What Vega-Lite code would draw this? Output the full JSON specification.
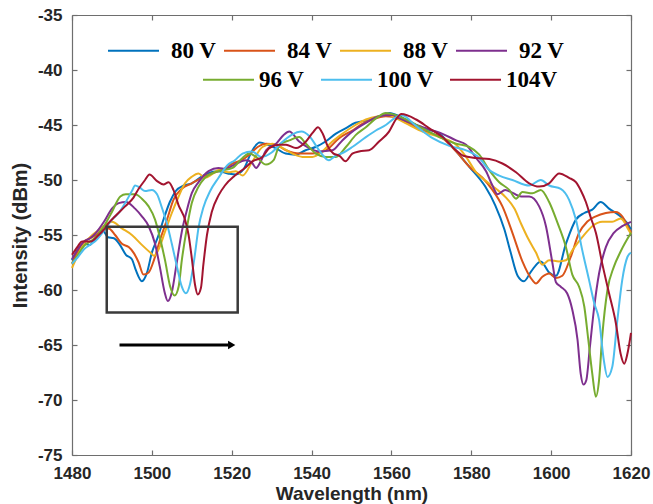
{
"$schema": "https://vega.github.io/schema/vega-lite/v6.json",
"width": 559, "height": 440,
"autosize": {"type": "none"},
"padding": {"left": 72, "top": 15, "right": 22, "bottom": 49},
"background": "white",
"config": {
  "view": {"stroke": null},
  "axis": {"grid": false, "domainColor": "#6e6e6e", "domainWidth": 1.2, "tickColor": "#6e6e6e", "tickWidth": 1.2, "tickSize": -5,
    "labelFont": "Liberation Sans", "labelFontWeight": "bold", "labelColor": "#262626",
    "titleFont": "Liberation Sans", "titleFontWeight": "bold", "titleColor": "#262626", "titleFontSize": 20}
},
"datasets": {
"spec": [
{"s":"80 V","x":1480,"y":-57.3},{"s":"80 V","x":1481.5,"y":-56.3},{"s":"80 V","x":1483,"y":-55.8},{"s":"80 V","x":1484.5,"y":-55.9},{"s":"80 V","x":1486,"y":-55.2},{"s":"80 V","x":1487.5,"y":-54.5},{"s":"80 V","x":1489,"y":-55.2},{"s":"80 V","x":1490.5,"y":-55.3},{"s":"80 V","x":1492,"y":-55.9},{"s":"80 V","x":1493.5,"y":-56.8},{"s":"80 V","x":1495,"y":-57.2},{"s":"80 V","x":1496,"y":-58.2},{"s":"80 V","x":1497.5,"y":-59.2},{"s":"80 V","x":1498.8,"y":-58.4},{"s":"80 V","x":1500,"y":-56.6},{"s":"80 V","x":1501.5,"y":-55.2},{"s":"80 V","x":1503,"y":-53.5},{"s":"80 V","x":1504.5,"y":-52.0},{"s":"80 V","x":1506,"y":-51.0},{"s":"80 V","x":1508,"y":-50.5},{"s":"80 V","x":1510,"y":-50.3},{"s":"80 V","x":1512,"y":-49.8},{"s":"80 V","x":1514,"y":-49.4},{"s":"80 V","x":1516.5,"y":-49.2},{"s":"80 V","x":1519,"y":-49.4},{"s":"80 V","x":1521,"y":-49.5},{"s":"80 V","x":1523,"y":-49.0},{"s":"80 V","x":1525,"y":-47.4},{"s":"80 V","x":1527,"y":-46.6},{"s":"80 V","x":1529,"y":-46.8},{"s":"80 V","x":1531,"y":-47.1},{"s":"80 V","x":1533.5,"y":-47.6},{"s":"80 V","x":1536,"y":-47.7},{"s":"80 V","x":1538.5,"y":-47.3},{"s":"80 V","x":1541,"y":-47.0},{"s":"80 V","x":1543.5,"y":-46.5},{"s":"80 V","x":1546,"y":-45.8},{"s":"80 V","x":1548.5,"y":-45.3},{"s":"80 V","x":1551,"y":-44.8},{"s":"80 V","x":1553.5,"y":-44.6},{"s":"80 V","x":1557,"y":-44.2},{"s":"80 V","x":1559.5,"y":-43.9},{"s":"80 V","x":1562,"y":-44.2},{"s":"80 V","x":1565,"y":-44.8},{"s":"80 V","x":1568,"y":-45.3},{"s":"80 V","x":1572,"y":-45.8},{"s":"80 V","x":1576,"y":-47.3},{"s":"80 V","x":1579.5,"y":-48.8},{"s":"80 V","x":1583.5,"y":-50.6},{"s":"80 V","x":1586,"y":-52.3},{"s":"80 V","x":1588.3,"y":-54.5},{"s":"80 V","x":1589.8,"y":-56.5},{"s":"80 V","x":1591.6,"y":-58.7},{"s":"80 V","x":1593.2,"y":-59.2},{"s":"80 V","x":1595,"y":-58.3},{"s":"80 V","x":1597.4,"y":-57.4},{"s":"80 V","x":1599.5,"y":-58.4},{"s":"80 V","x":1601.2,"y":-58.7},{"s":"80 V","x":1603.7,"y":-55.8},{"s":"80 V","x":1606.2,"y":-53.6},{"s":"80 V","x":1608.3,"y":-53.0},{"s":"80 V","x":1610.3,"y":-52.7},{"s":"80 V","x":1612.4,"y":-52.0},{"s":"80 V","x":1614.5,"y":-52.6},{"s":"80 V","x":1617,"y":-53.2},{"s":"80 V","x":1619,"y":-53.9},{"s":"80 V","x":1620,"y":-54.5},
{"s":"84 V","x":1480,"y":-57.6},{"s":"84 V","x":1481.5,"y":-56.5},{"s":"84 V","x":1483,"y":-55.6},{"s":"84 V","x":1484.5,"y":-55.3},{"s":"84 V","x":1486,"y":-55.0},{"s":"84 V","x":1487.5,"y":-54.6},{"s":"84 V","x":1489.2,"y":-54.4},{"s":"84 V","x":1490.8,"y":-55.0},{"s":"84 V","x":1492.5,"y":-55.8},{"s":"84 V","x":1494.2,"y":-56.1},{"s":"84 V","x":1495.4,"y":-56.6},{"s":"84 V","x":1496.7,"y":-57.5},{"s":"84 V","x":1497.9,"y":-58.6},{"s":"84 V","x":1499.2,"y":-58.4},{"s":"84 V","x":1500.6,"y":-57.2},{"s":"84 V","x":1502,"y":-55.5},{"s":"84 V","x":1503.8,"y":-53.6},{"s":"84 V","x":1505.4,"y":-51.8},{"s":"84 V","x":1507.5,"y":-50.8},{"s":"84 V","x":1510,"y":-50.3},{"s":"84 V","x":1512.5,"y":-49.8},{"s":"84 V","x":1515,"y":-49.4},{"s":"84 V","x":1518,"y":-49.0},{"s":"84 V","x":1520.2,"y":-48.5},{"s":"84 V","x":1522.5,"y":-48.2},{"s":"84 V","x":1524.4,"y":-47.7},{"s":"84 V","x":1526.5,"y":-47.0},{"s":"84 V","x":1528.6,"y":-46.7},{"s":"84 V","x":1531,"y":-46.8},{"s":"84 V","x":1533.6,"y":-47.3},{"s":"84 V","x":1536.9,"y":-47.6},{"s":"84 V","x":1540.2,"y":-47.6},{"s":"84 V","x":1543.6,"y":-47.3},{"s":"84 V","x":1546.9,"y":-46.2},{"s":"84 V","x":1550.2,"y":-45.5},{"s":"84 V","x":1552.7,"y":-44.9},{"s":"84 V","x":1555.2,"y":-44.5},{"s":"84 V","x":1558.6,"y":-44.2},{"s":"84 V","x":1562,"y":-44.4},{"s":"84 V","x":1565,"y":-45.0},{"s":"84 V","x":1567.8,"y":-45.5},{"s":"84 V","x":1572.8,"y":-46.2},{"s":"84 V","x":1576.2,"y":-47.4},{"s":"84 V","x":1579.5,"y":-48.8},{"s":"84 V","x":1582.8,"y":-49.8},{"s":"84 V","x":1585.3,"y":-50.9},{"s":"84 V","x":1587.8,"y":-52.4},{"s":"84 V","x":1590.3,"y":-54.8},{"s":"84 V","x":1592.8,"y":-57.4},{"s":"84 V","x":1595.3,"y":-59.1},{"s":"84 V","x":1596.2,"y":-59.4},{"s":"84 V","x":1597.8,"y":-58.8},{"s":"84 V","x":1599.5,"y":-58.5},{"s":"84 V","x":1601.2,"y":-58.9},{"s":"84 V","x":1602.8,"y":-58.7},{"s":"84 V","x":1604.9,"y":-57.0},{"s":"84 V","x":1607,"y":-54.8},{"s":"84 V","x":1609,"y":-53.8},{"s":"84 V","x":1611.2,"y":-53.3},{"s":"84 V","x":1613.7,"y":-53.0},{"s":"84 V","x":1616.2,"y":-52.9},{"s":"84 V","x":1617.8,"y":-53.3},{"s":"84 V","x":1619.3,"y":-54.3},{"s":"84 V","x":1620,"y":-54.8},
{"s":"88 V","x":1480,"y":-58.0},{"s":"88 V","x":1481.5,"y":-56.8},{"s":"88 V","x":1483,"y":-55.8},{"s":"88 V","x":1484.5,"y":-55.2},{"s":"88 V","x":1486.5,"y":-54.6},{"s":"88 V","x":1488.3,"y":-54.1},{"s":"88 V","x":1490,"y":-53.8},{"s":"88 V","x":1492.5,"y":-54.4},{"s":"88 V","x":1495,"y":-55.0},{"s":"88 V","x":1497.5,"y":-55.9},{"s":"88 V","x":1499.6,"y":-56.6},{"s":"88 V","x":1500.6,"y":-56.9},{"s":"88 V","x":1501.7,"y":-56.3},{"s":"88 V","x":1503.3,"y":-54.7},{"s":"88 V","x":1505,"y":-53.0},{"s":"88 V","x":1506.7,"y":-51.5},{"s":"88 V","x":1508.3,"y":-50.3},{"s":"88 V","x":1510,"y":-49.7},{"s":"88 V","x":1511.7,"y":-49.4},{"s":"88 V","x":1513.3,"y":-49.8},{"s":"88 V","x":1515,"y":-49.5},{"s":"88 V","x":1516.7,"y":-49.1},{"s":"88 V","x":1519.2,"y":-49.3},{"s":"88 V","x":1521,"y":-49.2},{"s":"88 V","x":1522.7,"y":-49.6},{"s":"88 V","x":1525.2,"y":-48.3},{"s":"88 V","x":1527.7,"y":-47.0},{"s":"88 V","x":1530.2,"y":-46.7},{"s":"88 V","x":1532.8,"y":-47.1},{"s":"88 V","x":1535.2,"y":-47.6},{"s":"88 V","x":1537.7,"y":-47.9},{"s":"88 V","x":1540.2,"y":-47.9},{"s":"88 V","x":1542.7,"y":-47.4},{"s":"88 V","x":1545.2,"y":-46.5},{"s":"88 V","x":1547.7,"y":-45.8},{"s":"88 V","x":1551,"y":-45.0},{"s":"88 V","x":1553.6,"y":-44.5},{"s":"88 V","x":1556.9,"y":-44.2},{"s":"88 V","x":1559.4,"y":-44.1},{"s":"88 V","x":1561.2,"y":-44.4},{"s":"88 V","x":1564.5,"y":-45.0},{"s":"88 V","x":1567.8,"y":-45.6},{"s":"88 V","x":1572,"y":-46.1},{"s":"88 V","x":1576.2,"y":-46.8},{"s":"88 V","x":1578.7,"y":-47.9},{"s":"88 V","x":1581.2,"y":-49.3},{"s":"88 V","x":1583.7,"y":-50.1},{"s":"88 V","x":1586.2,"y":-50.8},{"s":"88 V","x":1588.7,"y":-51.6},{"s":"88 V","x":1590.8,"y":-52.6},{"s":"88 V","x":1592.5,"y":-54.0},{"s":"88 V","x":1594.2,"y":-55.3},{"s":"88 V","x":1596.2,"y":-56.6},{"s":"88 V","x":1597.8,"y":-57.7},{"s":"88 V","x":1599.5,"y":-57.3},{"s":"88 V","x":1602,"y":-57.4},{"s":"88 V","x":1603.7,"y":-57.3},{"s":"88 V","x":1605.3,"y":-56.4},{"s":"88 V","x":1607.8,"y":-55.2},{"s":"88 V","x":1610.3,"y":-54.2},{"s":"88 V","x":1612.8,"y":-53.8},{"s":"88 V","x":1615.3,"y":-53.8},{"s":"88 V","x":1617.4,"y":-53.5},{"s":"88 V","x":1619.5,"y":-54.6},{"s":"88 V","x":1620,"y":-54.9},
{"s":"92 V","x":1480,"y":-57.2},{"s":"92 V","x":1481.5,"y":-56.3},{"s":"92 V","x":1483,"y":-55.6},{"s":"92 V","x":1484.5,"y":-55.3},{"s":"92 V","x":1486,"y":-54.8},{"s":"92 V","x":1488,"y":-53.8},{"s":"92 V","x":1490,"y":-52.6},{"s":"92 V","x":1491.7,"y":-52.1},{"s":"92 V","x":1493.5,"y":-52.0},{"s":"92 V","x":1495.8,"y":-52.6},{"s":"92 V","x":1497.5,"y":-53.3},{"s":"92 V","x":1499.2,"y":-54.2},{"s":"92 V","x":1500.8,"y":-55.8},{"s":"92 V","x":1502,"y":-57.9},{"s":"92 V","x":1503.2,"y":-60.2},{"s":"92 V","x":1504,"y":-61.0},{"s":"92 V","x":1505,"y":-60.2},{"s":"92 V","x":1506.2,"y":-57.6},{"s":"92 V","x":1507.5,"y":-54.7},{"s":"92 V","x":1508.8,"y":-52.7},{"s":"92 V","x":1510,"y":-51.2},{"s":"92 V","x":1511.7,"y":-50.2},{"s":"92 V","x":1514.2,"y":-49.2},{"s":"92 V","x":1516.7,"y":-48.9},{"s":"92 V","x":1518.5,"y":-49.0},{"s":"92 V","x":1520.2,"y":-48.7},{"s":"92 V","x":1523.6,"y":-48.2},{"s":"92 V","x":1525,"y":-48.4},{"s":"92 V","x":1526.1,"y":-48.9},{"s":"92 V","x":1527.4,"y":-48.2},{"s":"92 V","x":1528.6,"y":-47.3},{"s":"92 V","x":1531.1,"y":-46.7},{"s":"92 V","x":1533,"y":-45.9},{"s":"92 V","x":1534.4,"y":-45.6},{"s":"92 V","x":1536.9,"y":-46.5},{"s":"92 V","x":1539.4,"y":-47.1},{"s":"92 V","x":1541.9,"y":-47.4},{"s":"92 V","x":1545.2,"y":-47.3},{"s":"92 V","x":1547.7,"y":-46.4},{"s":"92 V","x":1550.2,"y":-45.6},{"s":"92 V","x":1553.6,"y":-44.8},{"s":"92 V","x":1556.9,"y":-44.2},{"s":"92 V","x":1560.3,"y":-44.1},{"s":"92 V","x":1562,"y":-44.4},{"s":"92 V","x":1567.8,"y":-45.2},{"s":"92 V","x":1572.8,"y":-45.8},{"s":"92 V","x":1576.2,"y":-46.4},{"s":"92 V","x":1578.7,"y":-46.8},{"s":"92 V","x":1581.2,"y":-48.0},{"s":"92 V","x":1583.7,"y":-49.2},{"s":"92 V","x":1585.3,"y":-50.5},{"s":"92 V","x":1586.6,"y":-51.3},{"s":"92 V","x":1588.5,"y":-50.9},{"s":"92 V","x":1590.5,"y":-51.2},{"s":"92 V","x":1592.5,"y":-51.5},{"s":"92 V","x":1594.5,"y":-51.5},{"s":"92 V","x":1597,"y":-52.4},{"s":"92 V","x":1598.7,"y":-54.2},{"s":"92 V","x":1600.3,"y":-57.5},{"s":"92 V","x":1601.2,"y":-59.3},{"s":"92 V","x":1602.4,"y":-59.7},{"s":"92 V","x":1604,"y":-60.3},{"s":"92 V","x":1605.3,"y":-61.8},{"s":"92 V","x":1606.6,"y":-64.5},{"s":"92 V","x":1607.4,"y":-67.6},{"s":"92 V","x":1608.1,"y":-68.6},{"s":"92 V","x":1608.8,"y":-68.2},{"s":"92 V","x":1609.7,"y":-65.2},{"s":"92 V","x":1610.8,"y":-61.5},{"s":"92 V","x":1612,"y":-58.5},{"s":"92 V","x":1613.7,"y":-56.1},{"s":"92 V","x":1615.7,"y":-54.8},{"s":"92 V","x":1617.8,"y":-54.2},{"s":"92 V","x":1620,"y":-53.8},
{"s":"96 V","x":1480,"y":-57.6},{"s":"96 V","x":1481.5,"y":-56.8},{"s":"96 V","x":1483,"y":-56.0},{"s":"96 V","x":1484.5,"y":-55.6},{"s":"96 V","x":1486,"y":-55.2},{"s":"96 V","x":1488,"y":-54.2},{"s":"96 V","x":1490,"y":-52.9},{"s":"96 V","x":1492.1,"y":-51.5},{"s":"96 V","x":1493.5,"y":-51.3},{"s":"96 V","x":1495.8,"y":-51.3},{"s":"96 V","x":1497.5,"y":-51.7},{"s":"96 V","x":1499.2,"y":-52.4},{"s":"96 V","x":1500.8,"y":-53.6},{"s":"96 V","x":1502,"y":-55.2},{"s":"96 V","x":1503.3,"y":-57.3},{"s":"96 V","x":1504.6,"y":-59.7},{"s":"96 V","x":1505.7,"y":-60.5},{"s":"96 V","x":1506.7,"y":-59.7},{"s":"96 V","x":1507.5,"y":-57.3},{"s":"96 V","x":1508.8,"y":-54.3},{"s":"96 V","x":1510,"y":-52.1},{"s":"96 V","x":1511.7,"y":-50.6},{"s":"96 V","x":1513.3,"y":-49.8},{"s":"96 V","x":1515.8,"y":-49.3},{"s":"96 V","x":1518,"y":-49.1},{"s":"96 V","x":1520.2,"y":-48.9},{"s":"96 V","x":1522.7,"y":-48.0},{"s":"96 V","x":1524.4,"y":-47.6},{"s":"96 V","x":1526.1,"y":-47.9},{"s":"96 V","x":1528.6,"y":-48.6},{"s":"96 V","x":1530.5,"y":-48.2},{"s":"96 V","x":1532,"y":-46.8},{"s":"96 V","x":1534.4,"y":-46.4},{"s":"96 V","x":1536.9,"y":-46.1},{"s":"96 V","x":1538.6,"y":-46.7},{"s":"96 V","x":1541.1,"y":-47.6},{"s":"96 V","x":1543.6,"y":-47.9},{"s":"96 V","x":1546.1,"y":-47.9},{"s":"96 V","x":1548.6,"y":-47.0},{"s":"96 V","x":1551.1,"y":-45.9},{"s":"96 V","x":1553.6,"y":-45.2},{"s":"96 V","x":1556.1,"y":-44.4},{"s":"96 V","x":1558.6,"y":-43.9},{"s":"96 V","x":1561.1,"y":-44.1},{"s":"96 V","x":1563.7,"y":-44.5},{"s":"96 V","x":1567.8,"y":-45.3},{"s":"96 V","x":1572,"y":-46.1},{"s":"96 V","x":1576.2,"y":-46.7},{"s":"96 V","x":1579.5,"y":-47.0},{"s":"96 V","x":1582,"y":-47.7},{"s":"96 V","x":1584.5,"y":-49.1},{"s":"96 V","x":1587,"y":-50.2},{"s":"96 V","x":1589.5,"y":-50.9},{"s":"96 V","x":1591.2,"y":-51.7},{"s":"96 V","x":1592.8,"y":-51.1},{"s":"96 V","x":1595.3,"y":-51.2},{"s":"96 V","x":1597.4,"y":-50.9},{"s":"96 V","x":1599.5,"y":-52.0},{"s":"96 V","x":1601.6,"y":-53.9},{"s":"96 V","x":1603.7,"y":-56.1},{"s":"96 V","x":1605.3,"y":-58.6},{"s":"96 V","x":1607,"y":-59.7},{"s":"96 V","x":1608.3,"y":-61.5},{"s":"96 V","x":1609.3,"y":-64.5},{"s":"96 V","x":1610.3,"y":-67.6},{"s":"96 V","x":1611.2,"y":-69.7},{"s":"96 V","x":1612,"y":-68.2},{"s":"96 V","x":1612.8,"y":-64.2},{"s":"96 V","x":1614.1,"y":-60.0},{"s":"96 V","x":1615.7,"y":-57.9},{"s":"96 V","x":1617.4,"y":-56.5},{"s":"96 V","x":1620,"y":-54.8},
{"s":"100 V","x":1480,"y":-57.6},{"s":"100 V","x":1481.5,"y":-57.0},{"s":"100 V","x":1483,"y":-56.3},{"s":"100 V","x":1484.5,"y":-55.9},{"s":"100 V","x":1486,"y":-55.5},{"s":"100 V","x":1488,"y":-54.6},{"s":"100 V","x":1490,"y":-53.6},{"s":"100 V","x":1491.7,"y":-53.0},{"s":"100 V","x":1493.3,"y":-52.1},{"s":"100 V","x":1495,"y":-51.0},{"s":"100 V","x":1495.8,"y":-50.5},{"s":"100 V","x":1497,"y":-50.7},{"s":"100 V","x":1498.3,"y":-51.0},{"s":"100 V","x":1500,"y":-50.9},{"s":"100 V","x":1501.3,"y":-51.3},{"s":"100 V","x":1502.5,"y":-52.5},{"s":"100 V","x":1503.8,"y":-54.0},{"s":"100 V","x":1505,"y":-55.8},{"s":"100 V","x":1506.3,"y":-57.9},{"s":"100 V","x":1507.5,"y":-59.7},{"s":"100 V","x":1508.5,"y":-60.3},{"s":"100 V","x":1509.6,"y":-59.4},{"s":"100 V","x":1510.7,"y":-57.0},{"s":"100 V","x":1511.7,"y":-54.3},{"s":"100 V","x":1512.9,"y":-52.5},{"s":"100 V","x":1514.6,"y":-51.0},{"s":"100 V","x":1516.7,"y":-49.8},{"s":"100 V","x":1518.8,"y":-48.7},{"s":"100 V","x":1520.8,"y":-48.2},{"s":"100 V","x":1522.7,"y":-47.6},{"s":"100 V","x":1525,"y":-47.4},{"s":"100 V","x":1527.5,"y":-47.9},{"s":"100 V","x":1530,"y":-47.5},{"s":"100 V","x":1532.5,"y":-46.6},{"s":"100 V","x":1535,"y":-45.9},{"s":"100 V","x":1537.5,"y":-45.6},{"s":"100 V","x":1539.4,"y":-46.0},{"s":"100 V","x":1541.9,"y":-47.3},{"s":"100 V","x":1544.3,"y":-48.2},{"s":"100 V","x":1546,"y":-47.8},{"s":"100 V","x":1548,"y":-47.5},{"s":"100 V","x":1550.2,"y":-47.0},{"s":"100 V","x":1553.6,"y":-46.1},{"s":"100 V","x":1556.1,"y":-45.5},{"s":"100 V","x":1558.6,"y":-45.0},{"s":"100 V","x":1561.1,"y":-44.3},{"s":"100 V","x":1562.5,"y":-44.1},{"s":"100 V","x":1566.2,"y":-45.1},{"s":"100 V","x":1570.3,"y":-46.2},{"s":"100 V","x":1574.5,"y":-46.9},{"s":"100 V","x":1578.7,"y":-47.3},{"s":"100 V","x":1582,"y":-48.0},{"s":"100 V","x":1584.5,"y":-49.1},{"s":"100 V","x":1587,"y":-49.6},{"s":"100 V","x":1590.3,"y":-50.0},{"s":"100 V","x":1594.5,"y":-50.5},{"s":"100 V","x":1597.4,"y":-50.0},{"s":"100 V","x":1599.5,"y":-50.5},{"s":"100 V","x":1602.4,"y":-50.8},{"s":"100 V","x":1604.5,"y":-51.8},{"s":"100 V","x":1606.2,"y":-53.6},{"s":"100 V","x":1607.8,"y":-56.4},{"s":"100 V","x":1609.5,"y":-59.1},{"s":"100 V","x":1610.8,"y":-61.2},{"s":"100 V","x":1612,"y":-62.7},{"s":"100 V","x":1613.2,"y":-66.4},{"s":"100 V","x":1614.1,"y":-67.9},{"s":"100 V","x":1615.3,"y":-67.0},{"s":"100 V","x":1616.6,"y":-62.7},{"s":"100 V","x":1617.8,"y":-59.1},{"s":"100 V","x":1619.1,"y":-57.0},{"s":"100 V","x":1620,"y":-56.6},
{"s":"104V","x":1480,"y":-56.8},{"s":"104V","x":1481.5,"y":-56.0},{"s":"104V","x":1482.5,"y":-55.6},{"s":"104V","x":1484.6,"y":-55.6},{"s":"104V","x":1486.7,"y":-55.0},{"s":"104V","x":1488,"y":-54.5},{"s":"104V","x":1489.2,"y":-53.9},{"s":"104V","x":1490.8,"y":-53.3},{"s":"104V","x":1493.3,"y":-52.4},{"s":"104V","x":1495.4,"y":-51.6},{"s":"104V","x":1496.7,"y":-50.8},{"s":"104V","x":1498.3,"y":-50.0},{"s":"104V","x":1499.4,"y":-49.5},{"s":"104V","x":1501.3,"y":-50.1},{"s":"104V","x":1502.9,"y":-50.4},{"s":"104V","x":1504.2,"y":-50.2},{"s":"104V","x":1505.4,"y":-50.9},{"s":"104V","x":1506.7,"y":-52.3},{"s":"104V","x":1508.3,"y":-53.6},{"s":"104V","x":1509.2,"y":-55.0},{"s":"104V","x":1510,"y":-57.1},{"s":"104V","x":1510.8,"y":-59.5},{"s":"104V","x":1511.5,"y":-60.4},{"s":"104V","x":1512.3,"y":-59.8},{"s":"104V","x":1512.9,"y":-57.7},{"s":"104V","x":1513.8,"y":-55.0},{"s":"104V","x":1515,"y":-52.9},{"s":"104V","x":1516.7,"y":-51.4},{"s":"104V","x":1518.3,"y":-50.5},{"s":"104V","x":1520.8,"y":-49.6},{"s":"104V","x":1523.3,"y":-48.9},{"s":"104V","x":1525.2,"y":-48.3},{"s":"104V","x":1527.7,"y":-47.9},{"s":"104V","x":1529.4,"y":-47.1},{"s":"104V","x":1531.9,"y":-46.8},{"s":"104V","x":1533.6,"y":-46.8},{"s":"104V","x":1536.1,"y":-47.1},{"s":"104V","x":1538.6,"y":-46.5},{"s":"104V","x":1540.3,"y":-45.7},{"s":"104V","x":1541.6,"y":-45.2},{"s":"104V","x":1542.8,"y":-45.8},{"s":"104V","x":1544,"y":-46.9},{"s":"104V","x":1545.5,"y":-47.6},{"s":"104V","x":1547,"y":-47.8},{"s":"104V","x":1548.5,"y":-48.3},{"s":"104V","x":1550.2,"y":-47.6},{"s":"104V","x":1551.9,"y":-47.4},{"s":"104V","x":1554.4,"y":-47.3},{"s":"104V","x":1556.9,"y":-46.5},{"s":"104V","x":1559.4,"y":-45.6},{"s":"104V","x":1561.1,"y":-44.5},{"s":"104V","x":1562.5,"y":-44.0},{"s":"104V","x":1566.2,"y":-44.5},{"s":"104V","x":1569.5,"y":-45.3},{"s":"104V","x":1572.8,"y":-46.1},{"s":"104V","x":1576.2,"y":-47.3},{"s":"104V","x":1578,"y":-47.8},{"s":"104V","x":1581.2,"y":-48.0},{"s":"104V","x":1584.5,"y":-48.1},{"s":"104V","x":1587.8,"y":-48.5},{"s":"104V","x":1591.2,"y":-49.3},{"s":"104V","x":1594.5,"y":-50.3},{"s":"104V","x":1597,"y":-50.6},{"s":"104V","x":1599.5,"y":-50.3},{"s":"104V","x":1602,"y":-49.4},{"s":"104V","x":1604.5,"y":-49.8},{"s":"104V","x":1606.2,"y":-50.2},{"s":"104V","x":1607.5,"y":-51.0},{"s":"104V","x":1608.7,"y":-52.0},{"s":"104V","x":1610,"y":-53.5},{"s":"104V","x":1611.2,"y":-54.8},{"s":"104V","x":1612.8,"y":-57.6},{"s":"104V","x":1614.5,"y":-60.3},{"s":"104V","x":1616.2,"y":-63.0},{"s":"104V","x":1617.4,"y":-65.8},{"s":"104V","x":1618.3,"y":-66.7},{"s":"104V","x":1619.1,"y":-65.8},{"s":"104V","x":1620,"y":-63.9}
],
"box": [{"x1": 1488.7, "x2": 1521.5, "y1": -54.25, "y2": -62.05}],
"arrow": [{"x1": 1491.9, "x2": 1519.2, "xh": 1520.0, "y": -65.0}]
},
"layer": [
 {
  "data": {"name": "spec"},
  "transform": [{"filter": "indexof(['80 V','84 V','88 V','92 V'], datum.s) >= 0"}],
  "mark": {"type": "line", "strokeWidth": 2, "interpolate": "monotone"},
  "encoding": {
   "x": {"field": "x", "type": "quantitative", "scale": {"domain": [1480, 1620], "nice": false, "zero": false},
     "axis": {"values": [1480,1500,1520,1540,1560,1580,1600,1620], "labelExpr": "toString(datum.value)", "title": "Wavelength (nm)", "titleFontSize": 19, "labelFontSize": 17, "labelPadding": 15, "titlePadding": 3, "labelFlush": false, "labelOverlap": false}},
   "y": {"field": "y", "type": "quantitative", "scale": {"domain": [-75, -35], "nice": false, "zero": false},
     "axis": {"values": [-75,-70,-65,-60,-55,-50,-45,-40,-35], "labelExpr": "toString(datum.value)", "title": "Intensity (dBm)", "labelFontSize": 17, "labelPadding": 15, "titlePadding": 7, "labelFlush": false, "labelOverlap": false}},
   "color": {"field": "s", "type": "nominal",
     "scale": {"domain": ["80 V","84 V","88 V","92 V"], "range": ["#0072BD","#D95319","#EDB120","#7E2F8E"]},
     "legend": {"orient": "none", "legendX": 35, "legendY": 9, "direction": "horizontal", "title": null,
       "symbolType": "stroke", "symbolSize": 2601, "symbolStrokeWidth": 2, "labelFont": "Liberation Serif", "labelFontWeight": "bold",
       "labelFontSize": 23, "labelColor": "black", "labelOffset": 11, "columnPadding": 3, "labelLimit": 0}}
  }
 },
 {
  "data": {"name": "spec"},
  "transform": [{"filter": "indexof(['96 V','100 V','104V'], datum.s) >= 0"}],
  "mark": {"type": "line", "strokeWidth": 2, "interpolate": "monotone"},
  "encoding": {
   "x": {"field": "x", "type": "quantitative", "scale": {"domain": [1480, 1620], "nice": false, "zero": false}, "axis": null},
   "y": {"field": "y", "type": "quantitative", "scale": {"domain": [-75, -35], "nice": false, "zero": false}, "axis": null},
   "color": {"field": "s", "type": "nominal",
     "scale": {"domain": ["96 V","100 V","104V"], "range": ["#77AC30","#4DBEEE","#A2142F"]},
     "legend": {"orient": "none", "legendX": 130, "legendY": 38, "direction": "horizontal", "title": null,
       "symbolType": "stroke", "symbolSize": 2601, "symbolStrokeWidth": 2, "labelFont": "Liberation Serif", "labelFontWeight": "bold",
       "labelFontSize": 23, "labelColor": "black", "labelOffset": 4, "columnPadding": 12, "labelLimit": 0}}
  }
 },
 {
  "data": {"name": "box"},
  "mark": {"type": "rect", "filled": false, "stroke": "#3a3a3a", "strokeWidth": 2.5},
  "encoding": {
   "x": {"field": "x1", "type": "quantitative", "scale": {"domain": [1480, 1620], "nice": false, "zero": false},
     "axis": {"orient": "top", "values": [1480,1500,1520,1540,1560,1580,1600,1620], "labels": false, "title": null}},
   "x2": {"field": "x2"},
   "y": {"field": "y1", "type": "quantitative", "scale": {"domain": [-75, -35], "nice": false, "zero": false},
     "axis": {"orient": "right", "values": [-75,-70,-65,-60,-55,-50,-45,-40,-35], "labels": false, "title": null}},
   "y2": {"field": "y2"}
  }
 },
 {
  "data": {"name": "arrow"},
  "mark": {"type": "rule", "color": "black", "strokeWidth": 3},
  "encoding": {
   "x": {"field": "x1", "type": "quantitative", "scale": {"domain": [1480, 1620], "nice": false, "zero": false}, "axis": null},
   "x2": {"field": "x2"},
   "y": {"field": "y", "type": "quantitative", "scale": {"domain": [-75, -35], "nice": false, "zero": false}, "axis": null}
  }
 },
 {
  "data": {"name": "arrow"},
  "mark": {"type": "point", "shape": "triangle-right", "filled": true, "color": "black", "size": 70, "opacity": 1},
  "encoding": {
   "x": {"field": "xh", "type": "quantitative", "scale": {"domain": [1480, 1620], "nice": false, "zero": false}, "axis": null},
   "y": {"field": "y", "type": "quantitative", "scale": {"domain": [-75, -35], "nice": false, "zero": false}, "axis": null}
  }
 }
],
"resolve": {"scale": {"color": "independent"}, "axis": {"x": "independent", "y": "independent"}}
}
